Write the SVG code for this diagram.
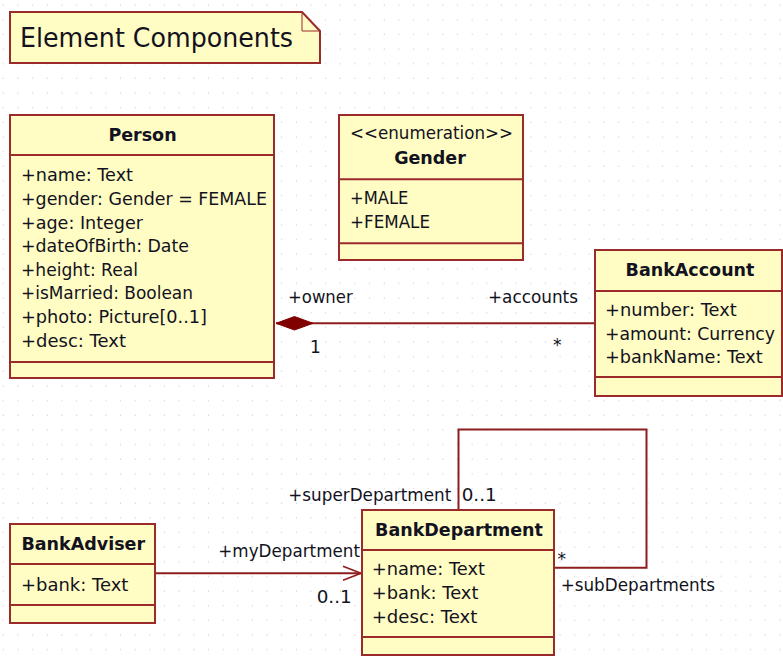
<svg xmlns="http://www.w3.org/2000/svg" width="783" height="659" viewBox="0 0 783 659">
<style>
.box{fill:#FFFCC4;stroke:#9B2B2B;stroke-width:2}
.div{stroke:#9B2B2B;stroke-width:2;fill:none}
.t{font-family:"DejaVu Sans",Verdana,sans-serif;font-size:17px;fill:#121220}
.b{font-family:"DejaVu Sans",Verdana,sans-serif;font-size:17.5px;font-weight:bold;fill:#121220}
.c{stroke:#8E1E1E;stroke-width:2;fill:none}
</style>
<defs>
<pattern id="grid" patternUnits="userSpaceOnUse" x="0" y="0" width="14.65" height="14.65">
<rect x="2.8" y="4.5" width="1.1" height="1.1" fill="#c8c8c8"/>
</pattern>
</defs>
<rect width="783" height="659" fill="#ffffff"/>
<rect width="783" height="659" fill="url(#grid)"/>

<g id="note">
<polygon class="box" points="10,12 302,12 320,31 320,63 10,63"/>
<polyline points="302,12 302,31 320,31" fill="none" stroke="#9B2B2B" stroke-width="1"/>
<text x="20" y="47" font-family="DejaVu Sans,Verdana,sans-serif" font-size="26" fill="#121220" textLength="273" lengthAdjust="spacingAndGlyphs">Element Components</text>
</g>

<g id="connectors">
<line class="c" x1="276" y1="323.3" x2="595" y2="323.3"/>
<polygon points="276,323.3 294.5,316.5 313,323.3 294.5,330" fill="#800000" stroke="#800000" stroke-width="1"/>
<text class="t" x="288" y="303.3" textLength="64.7" lengthAdjust="spacingAndGlyphs">+owner</text>
<text class="t" x="310" y="352.5">1</text>
<text class="t" x="488" y="303.3" textLength="90" lengthAdjust="spacingAndGlyphs">+accounts</text>
<text class="t" x="553" y="351">*</text>

<polyline class="c" points="458.5,510 458.5,429.5 646.5,429.5 646.5,567.7 554,567.7"/>
<text class="t" x="288.3" y="500.7" textLength="163" lengthAdjust="spacingAndGlyphs">+superDepartment</text>
<text class="t" x="461.7" y="500.7" textLength="35" lengthAdjust="spacingAndGlyphs">0..1</text>
<text class="t" x="557.5" y="565">*</text>
<text class="t" x="560.7" y="590.7" textLength="154.3" lengthAdjust="spacingAndGlyphs">+subDepartments</text>

<line class="c" x1="155" y1="573.3" x2="361" y2="573.3"/>
<polyline points="343,566.3 361,573.3 343,580.3" fill="none" stroke="#8E1E1E" stroke-width="1.6"/>
<text class="t" x="218.3" y="556.7" textLength="141.7" lengthAdjust="spacingAndGlyphs">+myDepartment</text>
<text class="t" x="316.7" y="603.3" textLength="35" lengthAdjust="spacingAndGlyphs">0..1</text>
</g>

<g id="Person">
<rect class="box" x="10" y="115" width="264" height="263"/>
<line class="div" x1="10" y1="155" x2="274" y2="155"/>
<line class="div" x1="10" y1="362" x2="274" y2="362"/>
<text class="b" x="142.5" y="140.7" text-anchor="middle">Person</text>
<text class="t" x="21" y="181" textLength="112" lengthAdjust="spacingAndGlyphs">+name: Text</text>
<text class="t" x="21" y="205" textLength="246" lengthAdjust="spacingAndGlyphs">+gender: Gender = FEMALE</text>
<text class="t" x="21" y="228.5" textLength="122" lengthAdjust="spacingAndGlyphs">+age: Integer</text>
<text class="t" x="21" y="252" textLength="168" lengthAdjust="spacingAndGlyphs">+dateOfBirth: Date</text>
<text class="t" x="21" y="275.7" textLength="117" lengthAdjust="spacingAndGlyphs">+height: Real</text>
<text class="t" x="21" y="299.3" textLength="172" lengthAdjust="spacingAndGlyphs">+isMarried: Boolean</text>
<text class="t" x="21" y="323" textLength="186" lengthAdjust="spacingAndGlyphs">+photo: Picture[0..1]</text>
<text class="t" x="21" y="346.7" textLength="105" lengthAdjust="spacingAndGlyphs">+desc: Text</text>
</g>

<g id="Gender">
<rect class="box" x="339" y="115" width="184" height="145"/>
<line class="div" x1="339" y1="179.3" x2="523" y2="179.3"/>
<line class="div" x1="339" y1="243.3" x2="523" y2="243.3"/>
<text class="t" x="350" y="139.3" textLength="163" lengthAdjust="spacingAndGlyphs">&lt;&lt;enumeration&gt;&gt;</text>
<text class="b" x="430" y="164.3" text-anchor="middle">Gender</text>
<text class="t" x="350" y="204" textLength="58.3" lengthAdjust="spacingAndGlyphs">+MALE</text>
<text class="t" x="350" y="228.3" textLength="80" lengthAdjust="spacingAndGlyphs">+FEMALE</text>
</g>

<g id="BankAccount">
<rect class="box" x="595" y="250" width="187" height="146"/>
<line class="div" x1="595" y1="291" x2="782" y2="291"/>
<line class="div" x1="595" y1="377" x2="782" y2="377"/>
<text class="b" x="690" y="276" text-anchor="middle">BankAccount</text>
<text class="t" x="605" y="316" textLength="131.7" lengthAdjust="spacingAndGlyphs">+number: Text</text>
<text class="t" x="605" y="340" textLength="170" lengthAdjust="spacingAndGlyphs">+amount: Currency</text>
<text class="t" x="605" y="363.3" textLength="157.7" lengthAdjust="spacingAndGlyphs">+bankName: Text</text>
</g>

<g id="BankDepartment">
<rect class="box" x="362" y="510" width="192" height="145"/>
<line class="div" x1="362" y1="550" x2="554" y2="550"/>
<line class="div" x1="362" y1="637" x2="554" y2="637"/>
<text class="b" x="459" y="535.7" text-anchor="middle">BankDepartment</text>
<text class="t" x="371.7" y="575" textLength="113.3" lengthAdjust="spacingAndGlyphs">+name: Text</text>
<text class="t" x="371.7" y="599" textLength="106.7" lengthAdjust="spacingAndGlyphs">+bank: Text</text>
<text class="t" x="371.7" y="622.7" textLength="105.7" lengthAdjust="spacingAndGlyphs">+desc: Text</text>
</g>

<g id="BankAdviser">
<rect class="box" x="10" y="524" width="145" height="99"/>
<line class="div" x1="10" y1="564" x2="155" y2="564"/>
<line class="div" x1="10" y1="605" x2="155" y2="605"/>
<text class="b" x="83.3" y="550" text-anchor="middle">BankAdviser</text>
<text class="t" x="21" y="591" textLength="107.3" lengthAdjust="spacingAndGlyphs">+bank: Text</text>
</g>
</svg>
